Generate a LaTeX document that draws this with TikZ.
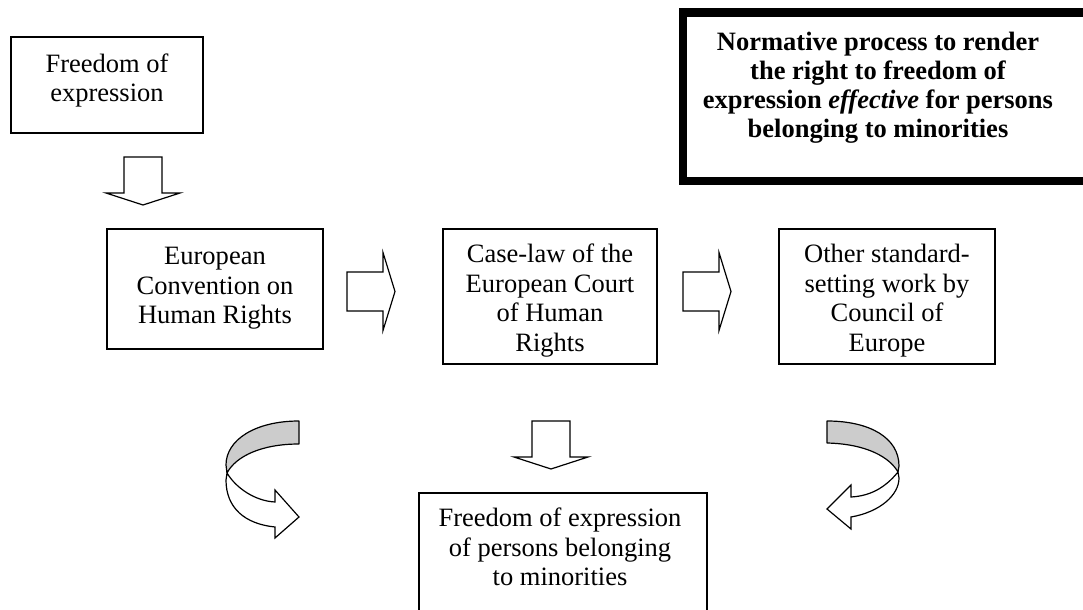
\documentclass[tikz,border=0pt]{standalone}
\usepackage{fontspec}
\setmainfont{Liberation Serif}
\definecolor{bandgray}{RGB}{204,204,204}
\tikzset{
  box/.style={draw, line width=1.5bp, inner sep=0pt, fill=white},
  txt/.style={align=center, inner sep=0pt, font=\fontsize{26.5bp}{29.5bp}\selectfont},
  blk/.style={draw, line width=1.2bp, fill=white, line join=miter},
  band/.style={draw, line width=1.2bp, fill=bandgray, line join=round},
  rarrow/.pic={\draw[blk] (0,-19.5) -- (36,-19.5) -- (36,-39) -- (48,0) -- (36,39) -- (36,19.5) -- (0,19.5) -- cycle;},
  darrow/.pic={\draw[blk] (-19,0) -- (19,0) -- (19,36) -- (37,36) -- (0,48) -- (-37,36) -- (-19,36) -- cycle;}
}
\begin{document}
\begin{tikzpicture}[x=1bp,y=-1bp]
\useasboundingbox (0,0) rectangle (1083,610);
\clip (0,0) rectangle (1083,610);

% boxes
\node[box, minimum width=192bp, minimum height=96bp] (fe) at (107,85) {};
\node[txt] (fet) at (107,80.5) {Freedom of\\expression};

\node[box, minimum width=216bp, minimum height=120bp] (echr) at (215,289) {};
\node[txt] (echrt) at (215,288.5) {European\\Convention on\\Human Rights};

\node[box, minimum width=214bp, minimum height=135bp] (case) at (550,296.5) {};
\node[txt] (caset) at (550,300.5) {Case-law of the\\European Court\\of Human\\Rights};

\node[box, minimum width=216bp, minimum height=135bp] (other) at (887,296.5) {};
\node[txt] (othert) at (887,300.5) {Other standard-\\setting work by\\Council of\\Europe};

\node[box, minimum width=288bp, minimum height=150bp] (min) at (563,568) {};
\node[txt] (mint) at (560,547) {Freedom of expression\\of persons belonging\\to minorities};

\node[draw, line width=8.5bp, inner sep=0pt, minimum width=412bp, minimum height=168.5bp] (norm) at (889,96.75) {};
\node[txt, font=\fontsize{26.5bp}{29bp}\selectfont\bfseries] (normt) at (878,88) {Normative process to render\\the right to freedom of\\expression \textit{effective} for persons\\belonging to minorities};

% block arrows
\pic (d1) at (143,157) {darrow};
\pic (r1) at (347,291.5) {rarrow};
\pic (r2) at (683,291.5) {rarrow};
\pic (d2) at (551,421) {darrow};

% left curved arrow
\draw[band] (299,421) .. controls (255,421) and (226,440) .. (226,465) -- (227,473)
  .. controls (236,456) and (262,444) .. (299,444) -- cycle;
\draw[blk] (227,473) .. controls (236,488) and (255,501) .. (275,502) -- (275,490) -- (299,517)
  -- (275,538) -- (275,527) .. controls (245,524) and (226,508) .. (226,480) -- cycle;

% right curved arrow
\draw[band] (827,421) .. controls (870,421) and (899,438) .. (899,466) -- (898,472)
  .. controls (890,458) and (868,444) .. (827,443) -- cycle;
\draw[blk] (898,472) .. controls (885,488) and (870,496) .. (851,497) -- (851,485) -- (827,509)
  -- (851,529) -- (851,517) .. controls (880,512) and (899,495) .. (899,478) -- cycle;
\end{tikzpicture}
\end{document}
